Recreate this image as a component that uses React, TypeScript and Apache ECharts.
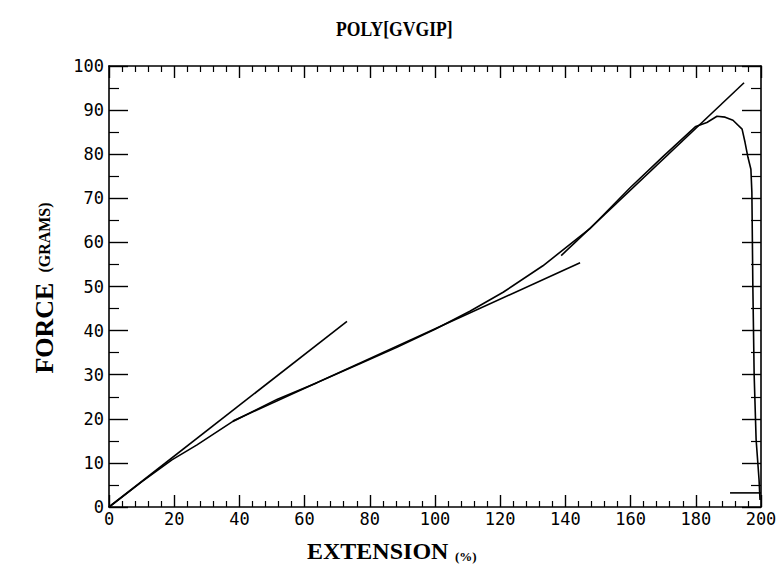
import React, { useEffect, useRef } from "react";
import * as echarts from "echarts";

const xTicks = [0, 20, 40, 60, 80, 100, 120, 140, 160, 180, 200];
const yTicks = [0, 10, 20, 30, 40, 50, 60, 70, 80, 90, 100];

const curveX = [0, 10, 19.3, 27, 38, 51.5, 63.8, 76.4, 88.3, 100, 110.7, 120.9, 133.1, 147.5, 160, 170, 180, 183.4, 186.5, 189, 191.4, 194.2, 195.1, 196, 196.9, 197.2, 197.5, 197.9, 198.5, 199.4, 199.7];
const curveY = [0, 5.7, 10.7, 14.1, 19.4, 24.4, 28.2, 32.3, 36.2, 40.3, 44.4, 48.7, 54.7, 63.1, 72.5, 79.5, 86.3, 87.2, 88.6, 88.4, 87.7, 85.7, 82.7, 79.3, 76.6, 71.4, 50, 30, 15.3, 6.2, 1.6];

const tangent1X = [0, 73];
const tangent1Y = [0, 42.1];
const tangent2X = [38, 144.5];
const tangent2Y = [19.5, 55.4];
const tangent3X = [138.7, 194.8];
const tangent3Y = [57, 96.2];
const tailX = [190.5, 200];
const tailY = [3.2, 3.2];

const zip = (xs: number[], ys: number[]) => xs.map((x, i) => [x, ys[i]]);

const lineSeries = (name: string, xs: number[], ys: number[], xi = 0, yi = 0) => ({
  name,
  type: "line",
  xAxisIndex: xi,
  yAxisIndex: yi,
  data: zip(xs, ys),
  showSymbol: false,
  symbol: "none",
  lineStyle: { color: "#000", width: 1.6 },
  clip: false,
});

const tickFont = "DejaVu Sans Mono";

export default function App() {
  const ref = useRef<HTMLDivElement>(null);
  useEffect(() => {
    document.body.style.margin = "0";
    if (!ref.current) return;
    const chart = echarts.init(ref.current, undefined, { renderer: "svg" });
    const axisLine = { show: true, onZero: false, lineStyle: { color: "#000", width: 1.6 } };
    const xBase = {
      type: "value",
      min: 0,
      max: 200,
      interval: 20,
      splitLine: { show: false },
      axisLine,
      axisTick: { show: true, inside: true, length: 12, lineStyle: { color: "#000", width: 1.4 } },
      minorTick: { show: true, splitNumber: 5, length: 6, lineStyle: { color: "#000", width: 1.2 } },
    };
    const yBase = {
      type: "value",
      min: 0,
      max: 100,
      interval: 10,
      splitLine: { show: false },
      axisLine,
      axisTick: { show: true, inside: true, length: 19, lineStyle: { color: "#000", width: 1.4 } },
      minorTick: { show: true, splitNumber: 2, length: 10, lineStyle: { color: "#000", width: 1.2 } },
    };
    chart.setOption({
      animation: false,
      backgroundColor: "#fff",
      grid: { left: 109, right: 20, top: 66, bottom: 67, containLabel: false },
      xAxis: [
        {
          ...xBase,
          position: "bottom",
          axisLabel: {
            show: true,
            color: "#000",
            fontFamily: tickFont,
            fontSize: 17,
            margin: 3,
            formatter: (v: number) => (xTicks.includes(v) ? String(v) : ""),
          },
        },
        { ...xBase, position: "top", axisLabel: { show: false } },
      ],
      yAxis: [
        {
          ...yBase,
          position: "left",
          axisLabel: {
            show: true,
            color: "#000",
            fontFamily: tickFont,
            fontSize: 17,
            margin: 5,
            formatter: (v: number) => (yTicks.includes(v) ? String(v) : ""),
          },
        },
        { ...yBase, position: "right", axisLabel: { show: false } },
      ],
      graphic: [
        {
          type: "text",
          left: 336,
          top: 17,
          scaleX: 0.8,
          style: { text: "POLY[GVGIP]", font: "bold 22px 'Liberation Serif'", fill: "#000" },
        },
        {
          type: "text",
          left: 307,
          top: 539,
          style: {
            text: "{a|EXTENSION}  {b|(%)}",
            rich: {
              a: { font: "bold 24px 'Liberation Serif'", fill: "#000", verticalAlign: "bottom" },
              b: { font: "bold 13px 'Liberation Serif'", fill: "#000", verticalAlign: "bottom" },
            },
          },
        },
        {
          type: "text",
          x: 44,
          y: 288,
          rotation: Math.PI / 2,
          style: {
            text: "{a|FORCE}   {b|(GRAMS)}",
            align: "center",
            verticalAlign: "middle",
            rich: {
              a: { font: "bold 26px 'Liberation Serif'", fill: "#000" },
              b: { font: "bold 16px 'Liberation Serif'", fill: "#000" },
            },
          },
        },
      ],
      series: [
        lineSeries("curve", curveX, curveY),
        lineSeries("tangent1", tangent1X, tangent1Y),
        lineSeries("tangent2", tangent2X, tangent2Y),
        lineSeries("tangent3", tangent3X, tangent3Y),
        lineSeries("tail", tailX, tailY),
      ],
    });
    return () => chart.dispose();
  }, []);
  return <div ref={ref} style={{ width: 781, height: 574 }} />;
}
